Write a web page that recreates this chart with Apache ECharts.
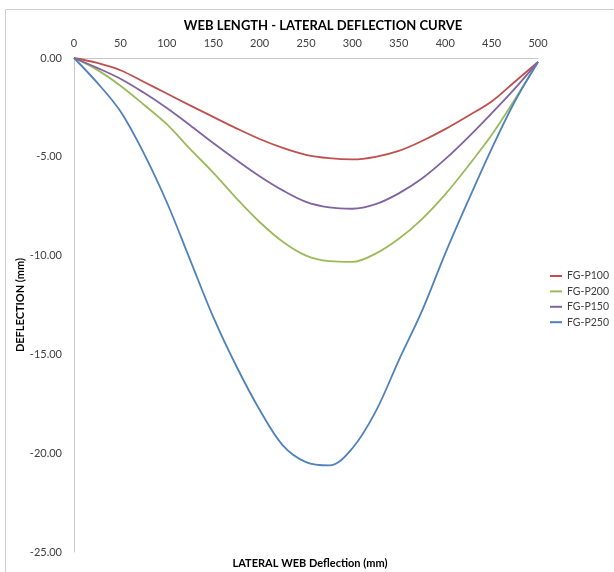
<!DOCTYPE html>
<html>
<head>
<meta charset="utf-8">
<script src="https://cdn.jsdelivr.net/npm/echarts@6/dist/echarts.min.js"></script>
<style>html,body{margin:0;padding:0;background:#fff}#c{width:614px;height:572px}</style>
</head>
<body>
<div id="c"></div>
<script>
var xValues = [0,25,50,75,100,125,150,175,200,225,250,275,300,325,350,375,400,425,450,475,500];
var seriesNames = ['FG-P100','FG-P200','FG-P150','FG-P250'];
var fgP100 = [0,-0.25,-0.62,-1.2,-1.8,-2.4,-2.98,-3.56,-4.1,-4.55,-4.9,-5.07,-5.13,-5.0,-4.7,-4.2,-3.6,-2.92,-2.2,-1.2,-0.2];
var fgP200 = [0,-0.6,-1.4,-2.35,-3.35,-4.6,-5.8,-7.1,-8.3,-9.3,-10.0,-10.28,-10.32,-9.9,-9.15,-8.15,-6.9,-5.45,-3.9,-2.1,-0.2];
var fgP150 = [0,-0.5,-1.05,-1.75,-2.53,-3.4,-4.3,-5.16,-5.98,-6.7,-7.28,-7.56,-7.63,-7.4,-6.85,-6.1,-5.12,-4.0,-2.8,-1.55,-0.2];
var fgP250 = [0,-1.25,-2.7,-4.8,-7.3,-10.2,-13.1,-15.6,-17.8,-19.6,-20.45,-20.62,-19.75,-17.9,-15.3,-12.8,-9.9,-7.2,-4.6,-2.2,-0.2];
var colors = ['#C0504D','#9BBB59','#8064A2','#4F81BD'];
var allValues = [fgP100, fgP200, fgP150, fgP250];

function pairs(v){ return xValues.map(function(x,i){ return [x, v[i]]; }); }

var font = 'Lato, "Open Sans", sans-serif';
var chart = echarts.init(document.getElementById('c'), null, {renderer:'canvas'});
chart.setOption({
  animation: false,
  backgroundColor: '#fff',
  color: colors,
  graphic: [{
    type: 'rect', shape: {x: 5.5, y: 9.5, width: 640, height: 620},
    style: {fill: 'none', stroke: '#d0d0d0', lineWidth: 1}, silent: true, z: -1
  }],
  title: [{
    text: 'WEB LENGTH - LATERAL DEFLECTION CURVE',
    left: 318, top: 14, textAlign: 'center',
    textStyle: {fontFamily: font, fontSize: 13, fontWeight: 'bold', color: '#000'}
  },{
    text: 'LATERAL WEB Deflection (mm)',
    left: 305, top: 553, textAlign: 'center',
    textStyle: {fontFamily: font, fontSize: 11, fontWeight: 'bold', color: '#000'}
  }],
  legend: {
    orient: 'vertical', left: 550, top: 270, padding: 0,
    icon: 'rect', itemWidth: 12, itemHeight: 2, itemGap: 3.4,
    textStyle: {fontFamily: font, fontSize: 10.5, color: '#404040', lineHeight: 12},
    data: seriesNames
  },
  grid: {left: 74, right: 76, top: 58, bottom: 20},
  xAxis: {
    type: 'value', position: 'top', min: 0, max: 500, interval: 50,
    axisLine: {show: true, lineStyle: {color: '#c8c8c8'}},
    axisTick: {show: false},
    splitLine: {show: false},
    axisLabel: {fontFamily: font, fontSize: 11, color: '#404040', margin: 9}
  },
  yAxis: {
    type: 'value', min: -25, max: 0, interval: 5,
    name: 'DEFLECTION (mm)', nameLocation: 'middle', nameGap: 48, nameRotate: 90,
    nameMoveOverlap: false,
    nameTextStyle: {fontFamily: font, fontSize: 11, fontWeight: 'bold', color: '#000'},
    axisLine: {show: true, onZero: false, lineStyle: {color: '#c8c8c8'}},
    axisTick: {show: false},
    splitLine: {show: false},
    axisLabel: {fontFamily: font, fontSize: 11, color: '#404040', margin: 12,
      formatter: function(v){ return v.toFixed(2); }}
  },
  series: seriesNames.map(function(n, i){
    return {
      name: n, type: 'line', data: pairs(allValues[i]), smooth: 0.35,
      showSymbol: false, lineStyle: {width: 1.8, color: colors[i]}, itemStyle: {color: colors[i]}
    };
  })
});
</script>
</body>
</html>
